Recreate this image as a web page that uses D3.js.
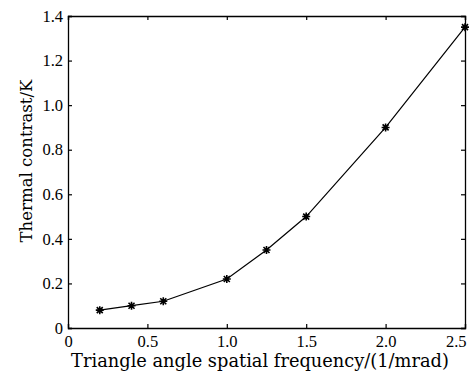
<!DOCTYPE html>
<html>
<head>
<meta charset="utf-8">
<script src="https://cdn.jsdelivr.net/npm/d3@7"></script>
<style>
  body { margin: 0; background: #fff; }
  svg text { fill: #000; }
</style>
</head>
<body>
<script>
const freq = [0.2, 0.4, 0.6, 1.0, 1.25, 1.5, 2.0, 2.5]
const contrast = [0.08, 0.1, 0.12, 0.22, 0.35, 0.5, 0.9, 1.35]
const xTicks = [0, 0.5, 1.0, 1.5, 2.0, 2.5]
const yTicks = [0, 0.2, 0.4, 0.6, 0.8, 1.0, 1.2, 1.4]

const serif = "'Liberation Serif', 'DejaVu Serif', serif"
const wideSerif = "'DejaVu Serif', 'Liberation Serif', serif"
const width = 473, height = 374
const margin = {left: 68, right: 8, top: 16, bottom: 46}
const w = width - margin.left - margin.right
const h = height - margin.top - margin.bottom

const fmt = d => d === 0 ? "0" : d.toFixed(1)

const svg = d3.select("body").append("svg")
    .attr("width", width)
    .attr("height", height)

const g = svg.append("g").attr("transform", `translate(${margin.left},${margin.top})`)

const x = d3.scaleLinear().domain([0, 2.5]).range([0, w])
const y = d3.scaleLinear().domain([0, 1.4]).range([h, 0])

// inward ticks on all four sides
const xa = g.append("g").attr("transform", `translate(0,${h})`)
    .call(d3.axisBottom(x).tickValues(xTicks).tickSize(-4).tickPadding(7).tickFormat(fmt))
g.append("g")
    .call(d3.axisTop(x).tickValues(xTicks).tickSize(-4).tickFormat(""))
g.append("g")
    .call(d3.axisLeft(y).tickValues(yTicks).tickSize(-4).tickPadding(5).tickFormat(fmt))
g.append("g").attr("transform", `translate(${w},0)`)
    .call(d3.axisRight(y).tickValues(yTicks).tickSize(-4).tickFormat(""))

g.selectAll(".domain").attr("stroke", "#000").attr("stroke-width", 1.3)
g.selectAll(".tick line").attr("stroke", "#000").attr("stroke-width", 1.2)
g.selectAll(".tick text").style("font-family", serif).style("font-size", "16.5px")
// last x label sits inside the frame, as in the source figure
xa.selectAll(".tick text").filter(d => d === 2.5).attr("text-anchor", "end").attr("x", 1)

const pts = freq.map((f, i) => [f, contrast[i]])

g.append("path")
    .datum(pts)
    .attr("fill", "none")
    .attr("stroke", "#000")
    .attr("stroke-width", 1.2)
    .attr("d", d3.line().x(d => x(d[0])).y(d => y(d[1])))

// asterisk markers
const r = 4
const star = g.append("g").selectAll("g")
    .data(pts).enter().append("g")
    .attr("transform", d => `translate(${x(d[0])},${y(d[1])})`)
star.append("path")
    .attr("d", `M${-r},0H${r}M0,${-r}V${r}M${-r*0.75},${-r*0.75}L${r*0.75},${r*0.75}M${-r*0.75},${r*0.75}L${r*0.75},${-r*0.75}`)
    .attr("stroke", "#000")
    .attr("stroke-width", 1.6)

// axis titles, sized to the span they take in the figure
const fit = (sel, target) => {
    sel.style("font-size", "16px")
    const len = sel.node().getComputedTextLength()
    sel.style("font-size", (16 * target / len) + "px")
}

const xt = svg.append("text")
    .attr("x", 260)
    .attr("y", 367)
    .attr("text-anchor", "middle")
    .style("font-family", wideSerif)
    .text("Triangle angle spatial frequency/(1/mrad)")
fit(xt, 378)

const yt = svg.append("text")
    .attr("transform", `translate(32,161) rotate(-90)`)
    .attr("text-anchor", "middle")
    .style("font-family", wideSerif)
    .text("Thermal contrast/K")
fit(yt, 163)
</script>
</body>
</html>
